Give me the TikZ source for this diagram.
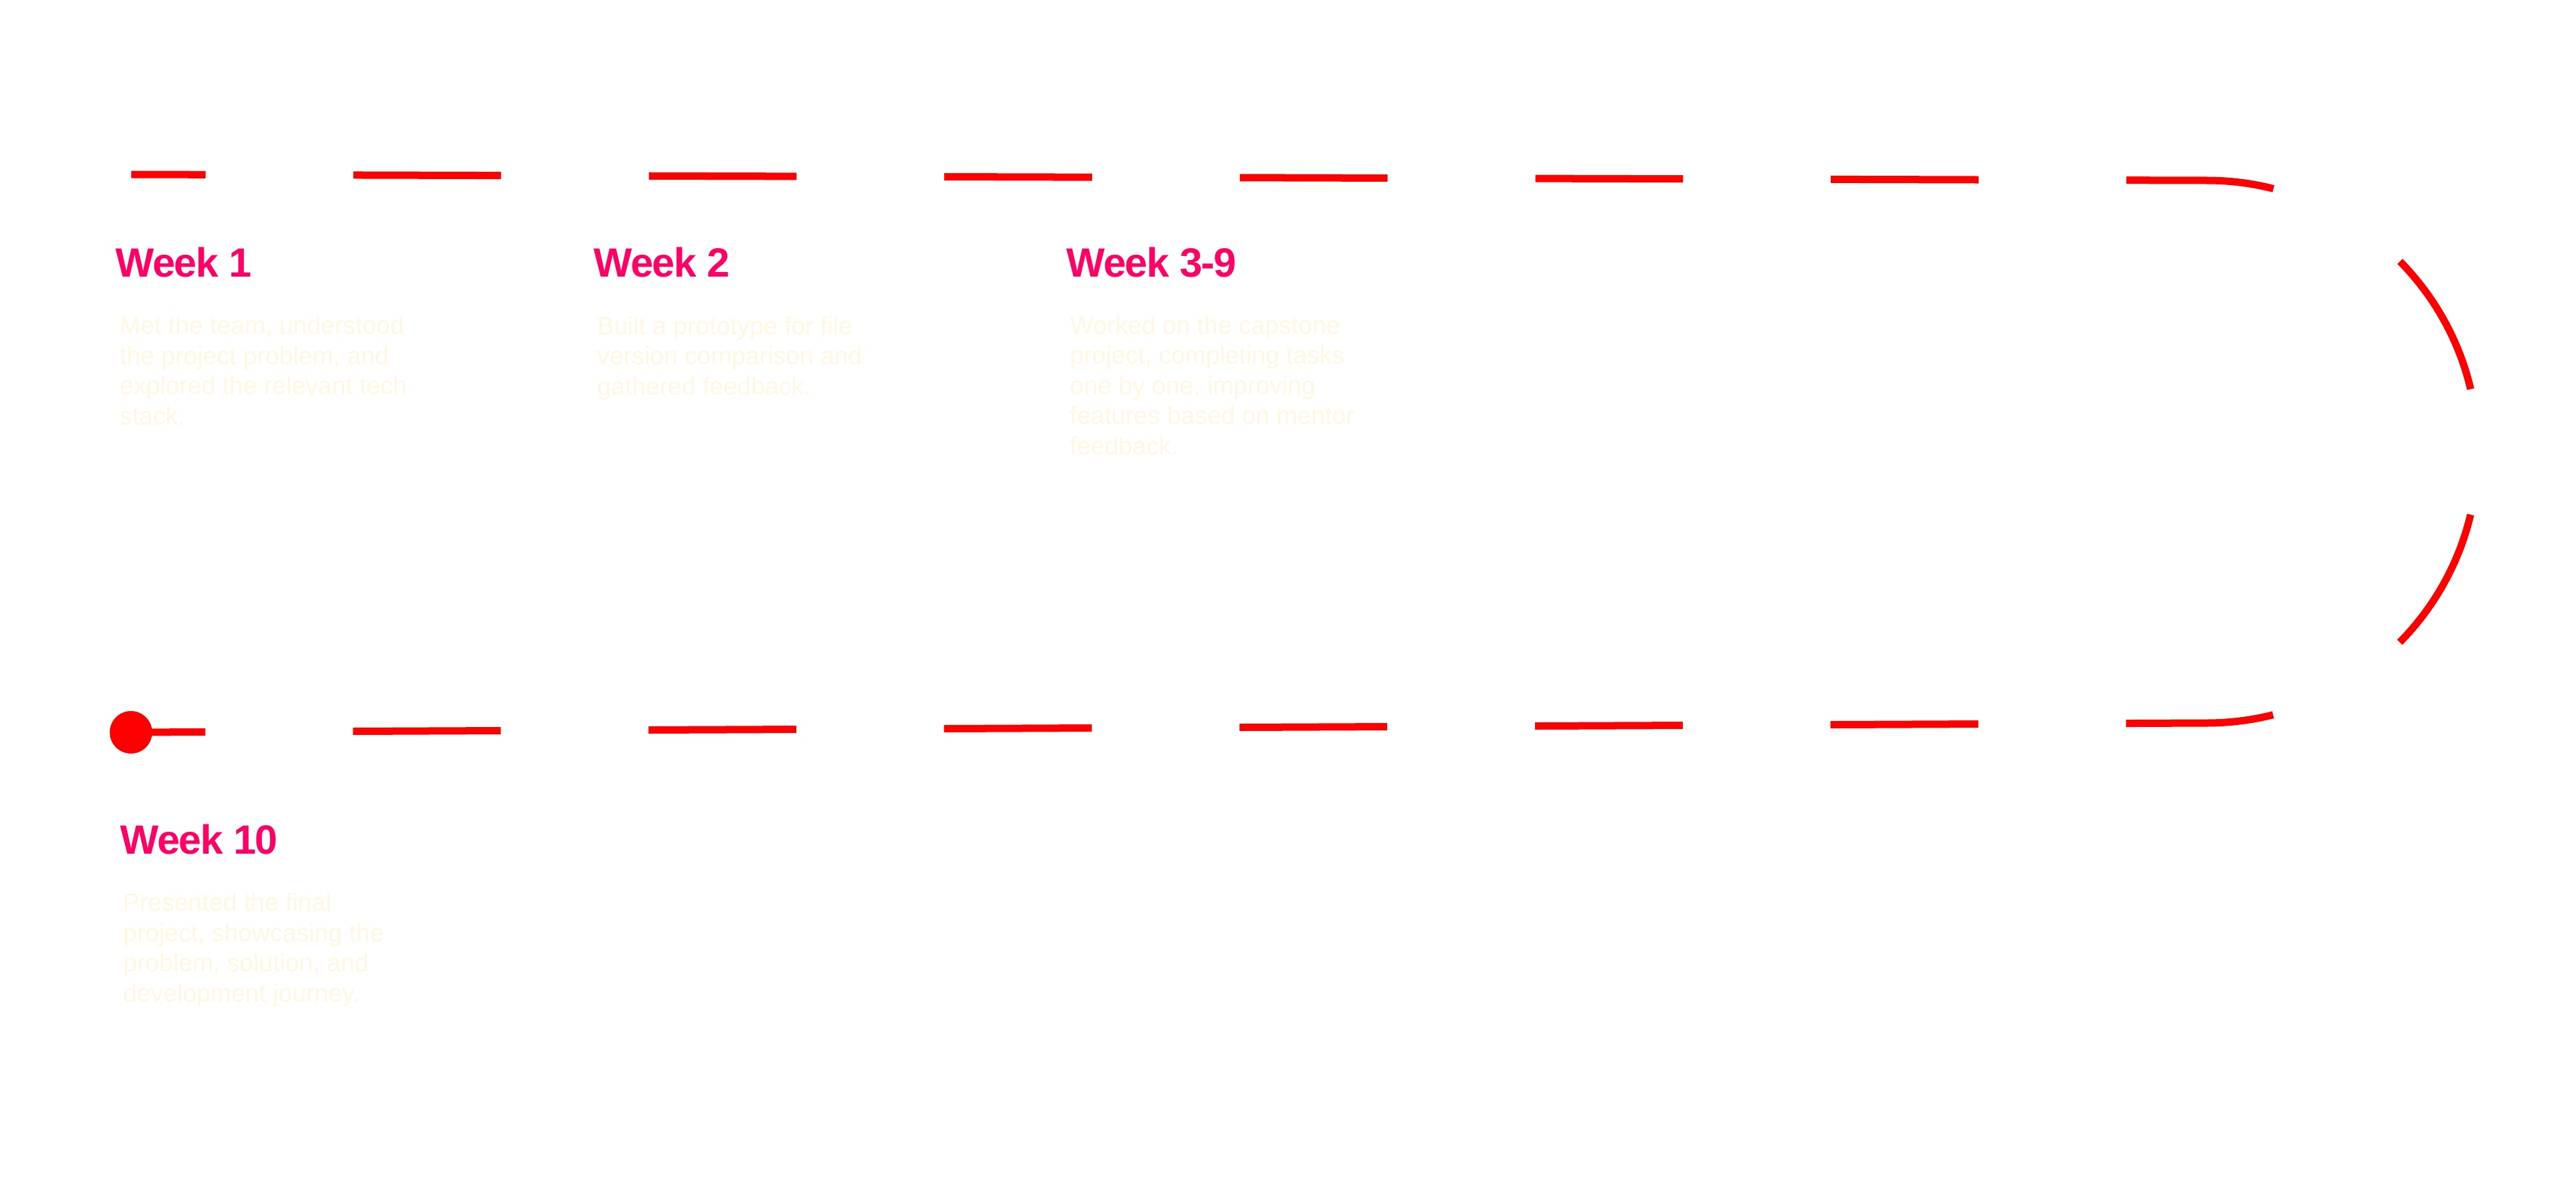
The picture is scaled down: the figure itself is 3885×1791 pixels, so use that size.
\documentclass[tikz,border=0pt]{standalone}
\usepackage{fontspec}
\setmainfont{Liberation Sans}
\newfontfamily\headfont[LetterSpace=-2.5]{Liberation Sans}
\definecolor{weekcol}{RGB}{255,0,102}
\definecolor{notecol}{RGB}{255,247,225}
\definecolor{routecol}{RGB}{255,0,0}

\begin{document}
\begin{tikzpicture}[
  x=0.01cm, y=-0.01cm,
  every node/.style={inner sep=0pt},
  %% Text styles
  weeknode/.style={
    anchor=base west, text=weekcol,
    font=\headfont\bfseries\fontsize{17.5}{21}\selectfont,
  },
  %% anchor = baseline of the last line
  notenode/.style={
    anchor=base west, align=left, text=notecol,
    font=\fontsize{10.7}{12.9}\selectfont,
  },
  %% Route styles (both halves start with the same short dash)
  route/.style={
    draw=routecol, line width=0.11cm,
    dash pattern=on 2.227cm off 2.227cm, dash phase=1.107cm,
  },
  enddot/.style={circle, fill=routecol, minimum size=0.64cm, inner sep=0pt},
]
\useasboundingbox (0,0) rectangle (3885,1791);

%% =============================================================
%%  Dashed route (top half and bottom half meet at the turn)
%% =============================================================
\coordinate (r0) at (198,263);
\coordinate (r1) at (3328,272);
\coordinate (r2) at (3328,1090);
\node[enddot] (dot) at (197.5,1104) {};

\draw[route] (r0) -- (r1)
    arc[start angle=-90, end angle=0, radius=409] coordinate (turn);
\draw[route] (dot.center) -- (r2)
    arc[start angle=90, end angle=0, radius=409];

%% =============================================================
%%  Week labels
%% =============================================================
\node[weeknode] (w1) at (174,417) {Week 1};
\node[notenode] (n1) at (180,640)
    {Met the team, understood\\the project problem, and\\explored the relevant tech\\stack.};

\node[weeknode] (w2) at (895,417) {Week 2};
\node[notenode] (n2) at (900,595)
    {Built a prototype for file\\version comparison and\\gathered feedback.};

\node[weeknode] (w3) at (1608,417) {Week 3-9};
\node[notenode] (n3) at (1613,685)
    {Worked on the capstone\\project, completing tasks\\one by one, improving\\features based on mentor\\feedback.};

\node[weeknode] (w10) at (181,1287) {Week 10};
\node[notenode] (n10) at (185,1510)
    {Presented the final\\project, showcasing the\\problem, solution, and\\development journey.};

\end{tikzpicture}
\end{document}
